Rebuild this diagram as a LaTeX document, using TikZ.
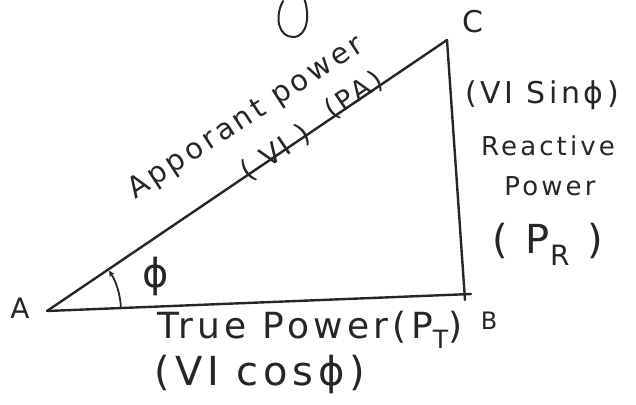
\documentclass[tikz,border=0pt]{standalone}
\usepackage{fontspec}
\setmainfont{DejaVu Sans}[LetterSpace=12]
\usetikzlibrary{arrows.meta}
\tikzset{
  stroke/.style={line width=2.4pt, draw=black!85, line cap=round, line join=round},
  hand/.style={inner sep=0pt, text=black!85},
}
\newcommand{\fs}[1]{\fontsize{#1}{#1}\selectfont}
\begin{document}
\begin{tikzpicture}[x=1pt,y=-1pt]
\useasboundingbox (0,0) rectangle (636,404);
% vertices
\coordinate (A) at (47,311);
\coordinate (B) at (465,294);
\coordinate (C) at (447,40);
\coordinate (Bx) at (471,294);
\coordinate (By) at (465,300);
% triangle
\draw[stroke] (A) -- (Bx);
\draw[stroke] (C) -- (By);
\draw[stroke] (A) -- (C);
% angle arc
\draw[stroke, line width=1.8pt, -{Stealth[length=6pt,width=6pt]}] ([shift={(-2.3:74)}]A) arc[start angle=-2.3, end angle=-33, radius=74];
% loop at top (cut-off letter)
\draw[stroke, line width=2pt] (304,-2) .. controls (310,14) and (308,37) .. (293,37) .. controls (279,37) and (274,18) .. (283,1);
% vertex labels
\node[hand, font=\fs{28}] (lA) at (20,308) {A};
\node[hand, font=\fs{24}] (lB) at (489,321) {B};
\node[hand, font=\fs{30}] (lC) at (473,22) {C};
\node[hand, font=\fs{40}] (phi) at (156,276) {ϕ};
% hypotenuse labels
\node[hand, font=\fs{29}, rotate=33] (app) at (246,118) {Apporant power};
\node[hand, font=\fs{28}, rotate=34] (vi) at (276,153) {( VI )};
\node[hand, font=\fs{27}, rotate=34] (pa) at (354,95) {(PA)};
% right side labels
\node[hand, font=\fs{30}] (sin) at (542,95) {(VI Sinϕ)};
\node[hand, font=\fs{26}] (rea) at (548,146) {Reactive};
\node[hand, font=\fs{26}] (pow) at (550,186) {Power};
\node[hand, font=\fs{40}] (pr) at (548,244) {( P\textsubscript{R} )};
% bottom labels
\node[hand, font=\fs{36}] (tp) at (310,330) {True Power(P\textsubscript{T})};
\node[hand, font=\fs{40}] (cos) at (260,374) {(VI cosϕ)};
\end{tikzpicture}
\end{document}
